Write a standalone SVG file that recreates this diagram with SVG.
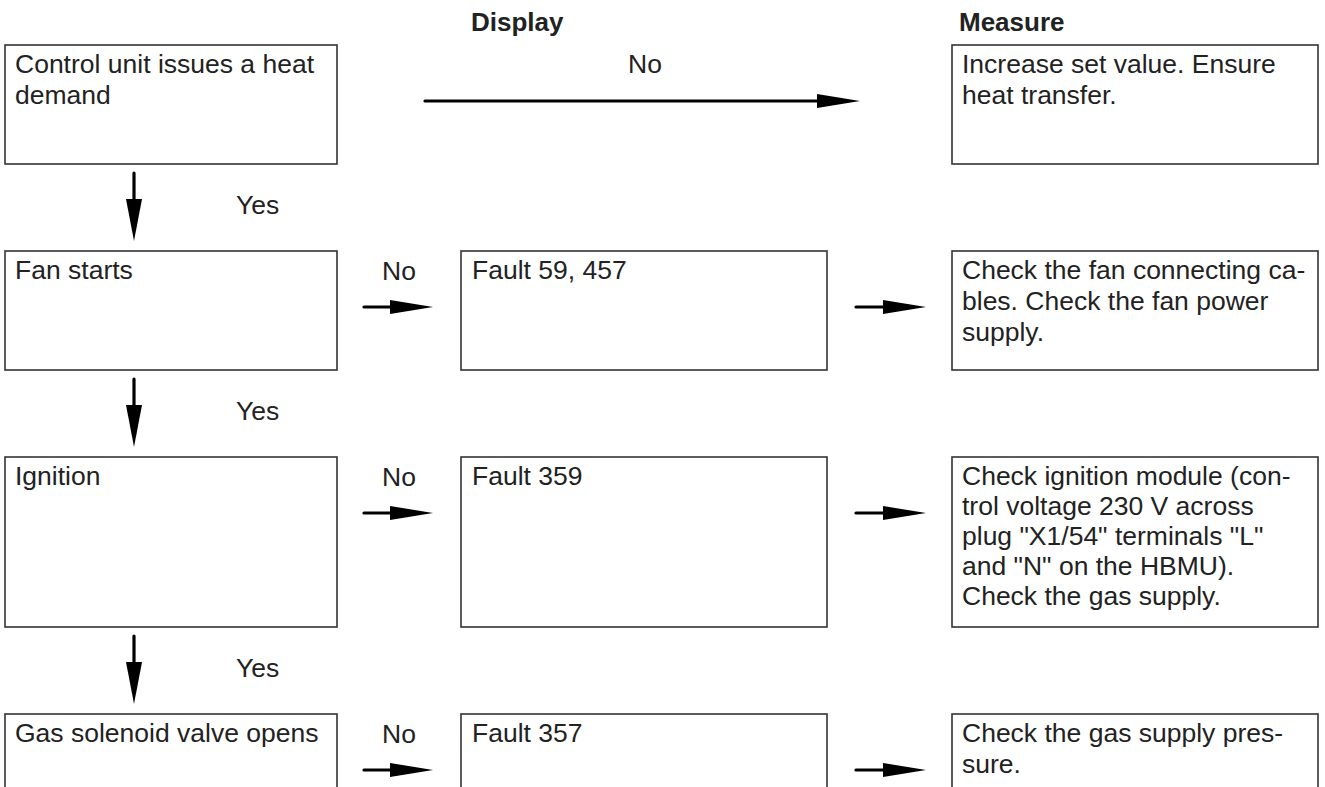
<svg xmlns="http://www.w3.org/2000/svg" width="1325" height="787" viewBox="0 0 1325 787">
<defs>
<style>
.box{fill:#fff;stroke:#333;stroke-width:1.6}
.t{font-family:"Liberation Sans",Arial,sans-serif;font-size:26.5px;fill:#222}
.h{font-family:"Liberation Sans",Arial,sans-serif;font-size:26px;font-weight:bold;fill:#222}
.c{stroke:#000;stroke-width:3.2;fill:none;stroke-linecap:round}
.ah{fill:#000}
</style>
</defs>
<rect width="1325" height="787" fill="#fff"/>
<g id="headers">
<text class="h" x="471" y="31">Display</text>
<text class="h" x="959" y="31">Measure</text>
</g>
<g id="connectors">
<line class="c" x1="425" y1="101" x2="820" y2="101"/>
<polygon class="ah" points="817,94 860,101 817,108"/>
<text class="t" x="628" y="73">No</text>

<line class="c" x1="134" y1="173" x2="134" y2="202"/>
<polygon class="ah" points="126,199 142,199 134,241"/>
<text class="t" x="236" y="214">Yes</text>
<line class="c" x1="134" y1="379" x2="134" y2="408"/>
<polygon class="ah" points="126,405 142,405 134,447"/>
<text class="t" x="236" y="420">Yes</text>
<line class="c" x1="134" y1="636" x2="134" y2="665"/>
<polygon class="ah" points="126,662 142,662 134,704"/>
<text class="t" x="236" y="677">Yes</text>

<line class="c" x1="364" y1="307" x2="393" y2="307"/>
<polygon class="ah" points="390,300 433,307 390,314"/>
<text class="t" x="382" y="280">No</text>
<line class="c" x1="856" y1="307" x2="886" y2="307"/>
<polygon class="ah" points="883,300 926,307 883,314"/>

<line class="c" x1="364" y1="513" x2="393" y2="513"/>
<polygon class="ah" points="390,506 433,513 390,520"/>
<text class="t" x="382" y="486">No</text>
<line class="c" x1="856" y1="513" x2="886" y2="513"/>
<polygon class="ah" points="883,506 926,513 883,520"/>

<line class="c" x1="364" y1="770" x2="393" y2="770"/>
<polygon class="ah" points="390,763 433,770 390,777"/>
<text class="t" x="382" y="743">No</text>
<line class="c" x1="856" y1="770" x2="886" y2="770"/>
<polygon class="ah" points="883,763 926,770 883,777"/>
</g>
<g id="n-heat-demand">
<rect class="box" x="5" y="45" width="332" height="119"/>
<text class="t" x="15" y="73">Control unit issues a heat</text>
<text class="t" x="15" y="104">demand</text>
</g>
<g id="n-measure-1">
<rect class="box" x="952" y="45" width="366" height="119"/>
<text class="t" x="962" y="73">Increase set value. Ensure</text>
<text class="t" x="962" y="104">heat transfer.</text>
</g>
<g id="n-fan">
<rect class="box" x="5" y="251" width="332" height="119"/>
<text class="t" x="15" y="279">Fan starts</text>
</g>
<g id="n-fault-59">
<rect class="box" x="461" y="251" width="366" height="119"/>
<text class="t" x="472" y="279">Fault 59, 457</text>
</g>
<g id="n-measure-2">
<rect class="box" x="952" y="251" width="366" height="119"/>
<text class="t" x="962" y="279">Check the fan connecting ca-</text>
<text class="t" x="962" y="310">bles. Check the fan power</text>
<text class="t" x="962" y="341">supply.</text>
</g>
<g id="n-ignition">
<rect class="box" x="5" y="457" width="332" height="170"/>
<text class="t" x="15" y="485">Ignition</text>
</g>
<g id="n-fault-359">
<rect class="box" x="461" y="457" width="366" height="170"/>
<text class="t" x="472" y="485">Fault 359</text>
</g>
<g id="n-measure-3">
<rect class="box" x="952" y="457" width="366" height="170"/>
<text class="t" x="962" y="485">Check ignition module (con-</text>
<text class="t" x="962" y="515">trol voltage 230 V across</text>
<text class="t" x="962" y="545">plug "X1/54" terminals "L"</text>
<text class="t" x="962" y="575">and "N" on the HBMU).</text>
<text class="t" x="962" y="605">Check the gas supply.</text>
</g>
<g id="n-gas-valve">
<rect class="box" x="5" y="714" width="332" height="120"/>
<text class="t" x="15" y="742">Gas solenoid valve opens</text>
</g>
<g id="n-fault-357">
<rect class="box" x="461" y="714" width="366" height="120"/>
<text class="t" x="472" y="742">Fault 357</text>
</g>
<g id="n-measure-4">
<rect class="box" x="952" y="714" width="366" height="120"/>
<text class="t" x="962" y="742">Check the gas supply pres-</text>
<text class="t" x="962" y="773">sure.</text>
</g>
</svg>
